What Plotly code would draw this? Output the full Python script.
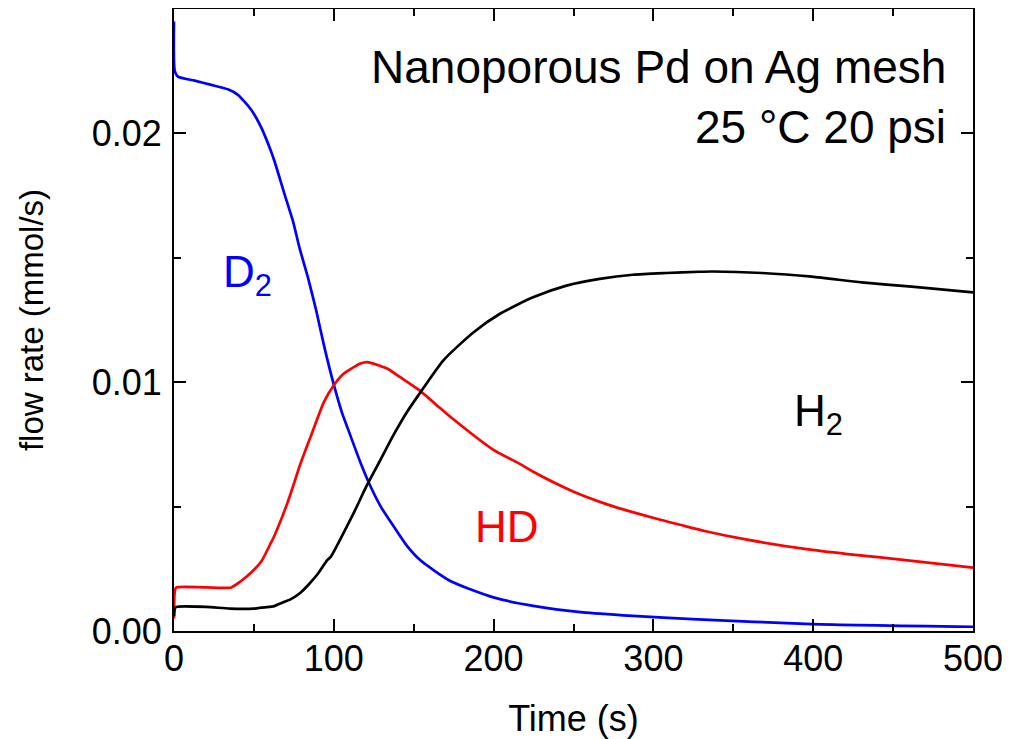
import plotly.graph_objects as go

# D2 (blue)
t_d2 = [0, 0.5, 2.5, 12.9, 23.3, 33.7, 40, 44.1, 48.3, 51.5, 54.5, 56.7, 59.7, 62.9,
        69.2, 74.4, 78.5, 83.8, 89, 94.1, 100, 105, 108.4, 116.8, 122, 129.3, 137.4,
        145.9, 154.2, 172.9, 199.9, 224.8, 255.9, 287, 324.4, 399.2, 500]
v_d2 = [0.0245, 0.0225, 0.02228, 0.02212, 0.02195, 0.02177, 0.02155, 0.02128, 0.02095,
        0.02062, 0.02025, 0.01993, 0.01945, 0.01888, 0.01755, 0.01648, 0.01541, 0.01421,
        0.01288, 0.01141, 0.0099, 0.0088, 0.0082, 0.00675, 0.00595, 0.00501, 0.00421,
        0.00341, 0.00284, 0.00201, 0.00135, 0.00101, 0.00075, 0.00061, 0.00048, 0.00028,
        0.00017]

# HD (red)
t_hd = [0, 0.5, 1.5, 20, 35.8, 42, 48.3, 54.5, 60.7, 62.7, 71, 79.3, 85.5, 93.8, 100,
        106.3, 116.7, 120.9, 133.3, 141.6, 153, 166.7, 172.9, 199.9, 216.4, 224.8, 249.7,
        270.5, 276.7, 303.7, 316, 332.7, 357.8, 397, 426.3, 440.7, 500]
v_hd = [0.0005, 0.0016, 0.00175, 0.00175, 0.00175, 0.00201, 0.00235, 0.00278, 0.00355,
        0.00381, 0.00515, 0.00675, 0.00781, 0.0092, 0.00988, 0.01035, 0.01075, 0.01081,
        0.01055, 0.0102, 0.0097, 0.00895, 0.00861, 0.00728, 0.00672, 0.0064, 0.00561,
        0.0051, 0.00497, 0.00448, 0.00428, 0.00401, 0.00368, 0.00328, 0.00306, 0.00297,
        0.00255]

# H2 (black)
t_h2 = [0, 0.5, 1.5, 20, 35, 50, 56.5, 62.7, 67, 73.2, 79.3, 84, 89.8, 95.9, 98.1, 104.2,
        112.5, 120.9, 129.2, 137.4, 145.9, 153, 168.6, 187.3, 204, 224.7, 245.6, 266.4,
        287.2, 308, 328.7, 336.9, 368, 399.2, 430.4, 461.6, 500]
v_h2 = [0.0006, 0.0009, 0.00097, 0.00097, 0.0009, 0.0009, 0.00095, 0.001, 0.00112,
        0.00128, 0.00155, 0.00185, 0.00228, 0.00285, 0.00298, 0.0037, 0.00475, 0.00588,
        0.00688, 0.00788, 0.00881, 0.00948, 0.01088, 0.0120, 0.01275, 0.01341, 0.01388,
        0.01415, 0.01432, 0.01439, 0.01444, 0.01445, 0.01439, 0.01424, 0.01401, 0.01384,
        0.01361]

x_ticks = [0, 100, 200, 300, 400, 500]
y_ticks = [0, 0.01, 0.02]
y_ticktext = ["0.00", "0.01", "0.02"]

FONT = "Arial, Liberation Sans, sans-serif"

fig = go.Figure()
for tx, vy, col in [(t_d2, v_d2, "#0000FF"), (t_hd, v_hd, "#FF0000"), (t_h2, v_h2, "#000000")]:
    fig.add_trace(go.Scatter(x=tx, y=vy, mode="lines",
                             line=dict(color=col, width=2.7, shape="spline", smoothing=0.6)))

axis_common = dict(
    showline=True, linecolor="black", linewidth=2, mirror="ticks",
    ticks="inside", ticklen=12, tickwidth=2, tickcolor="black",
    showgrid=False, zeroline=False,
    tickfont=dict(family=FONT, size=36, color="black"),
)

fig.update_xaxes(
    range=[0, 500], tickvals=x_ticks,
    minor=dict(dtick=50, tick0=0, ticks="inside", ticklen=7, tickwidth=2, tickcolor="black"),
    title=dict(text="Time (s)", font=dict(family=FONT, size=36, color="black"), standoff=28),
    ticklabelstandoff=-5,
    **axis_common,
)
fig.update_yaxes(
    range=[0, 0.025], tickvals=y_ticks, ticktext=y_ticktext,
    minor=dict(dtick=0.005, tick0=0, ticks="inside", ticklen=7, tickwidth=2, tickcolor="black"),
    title=dict(text="flow rate (mmol/s)", font=dict(family=FONT, size=33, color="black"), standoff=38),
    ticklabelstandoff=3,
    **axis_common,
)

title_font = dict(family=FONT, size=46, color="black")
lab_font = dict(family=FONT, size=44)
fig.add_annotation(x=484.6, y=0.02267, xanchor="right", yanchor="middle", showarrow=False,
                   text="Nanoporous Pd on Ag mesh", font=title_font)
fig.add_annotation(x=484.6, y=0.02026, xanchor="right", yanchor="middle", showarrow=False,
                   text="25 °C 20 psi", font=title_font)
fig.add_annotation(x=29.6, y=0.01432, xanchor="left", yanchor="middle", showarrow=False,
                   text="D<sub>2</sub>", font=dict(lab_font, color="#0000FF"))
fig.add_annotation(x=187.3, y=0.0042, xanchor="left", yanchor="middle", showarrow=False,
                   text="HD", font=dict(lab_font, color="#FF0000"))
fig.add_annotation(x=386.5, y=0.00874, xanchor="left", yanchor="middle", showarrow=False,
                   text="H<sub>2</sub>", font=dict(lab_font, color="#000000"))

fig.update_layout(
    width=1009, height=731,
    margin=dict(l=166, r=44, t=1, b=108, autoexpand=False),
    paper_bgcolor="white", plot_bgcolor="white",
    showlegend=False,
    font=dict(family=FONT, color="black"),
)

fig.write_html("out.html")
